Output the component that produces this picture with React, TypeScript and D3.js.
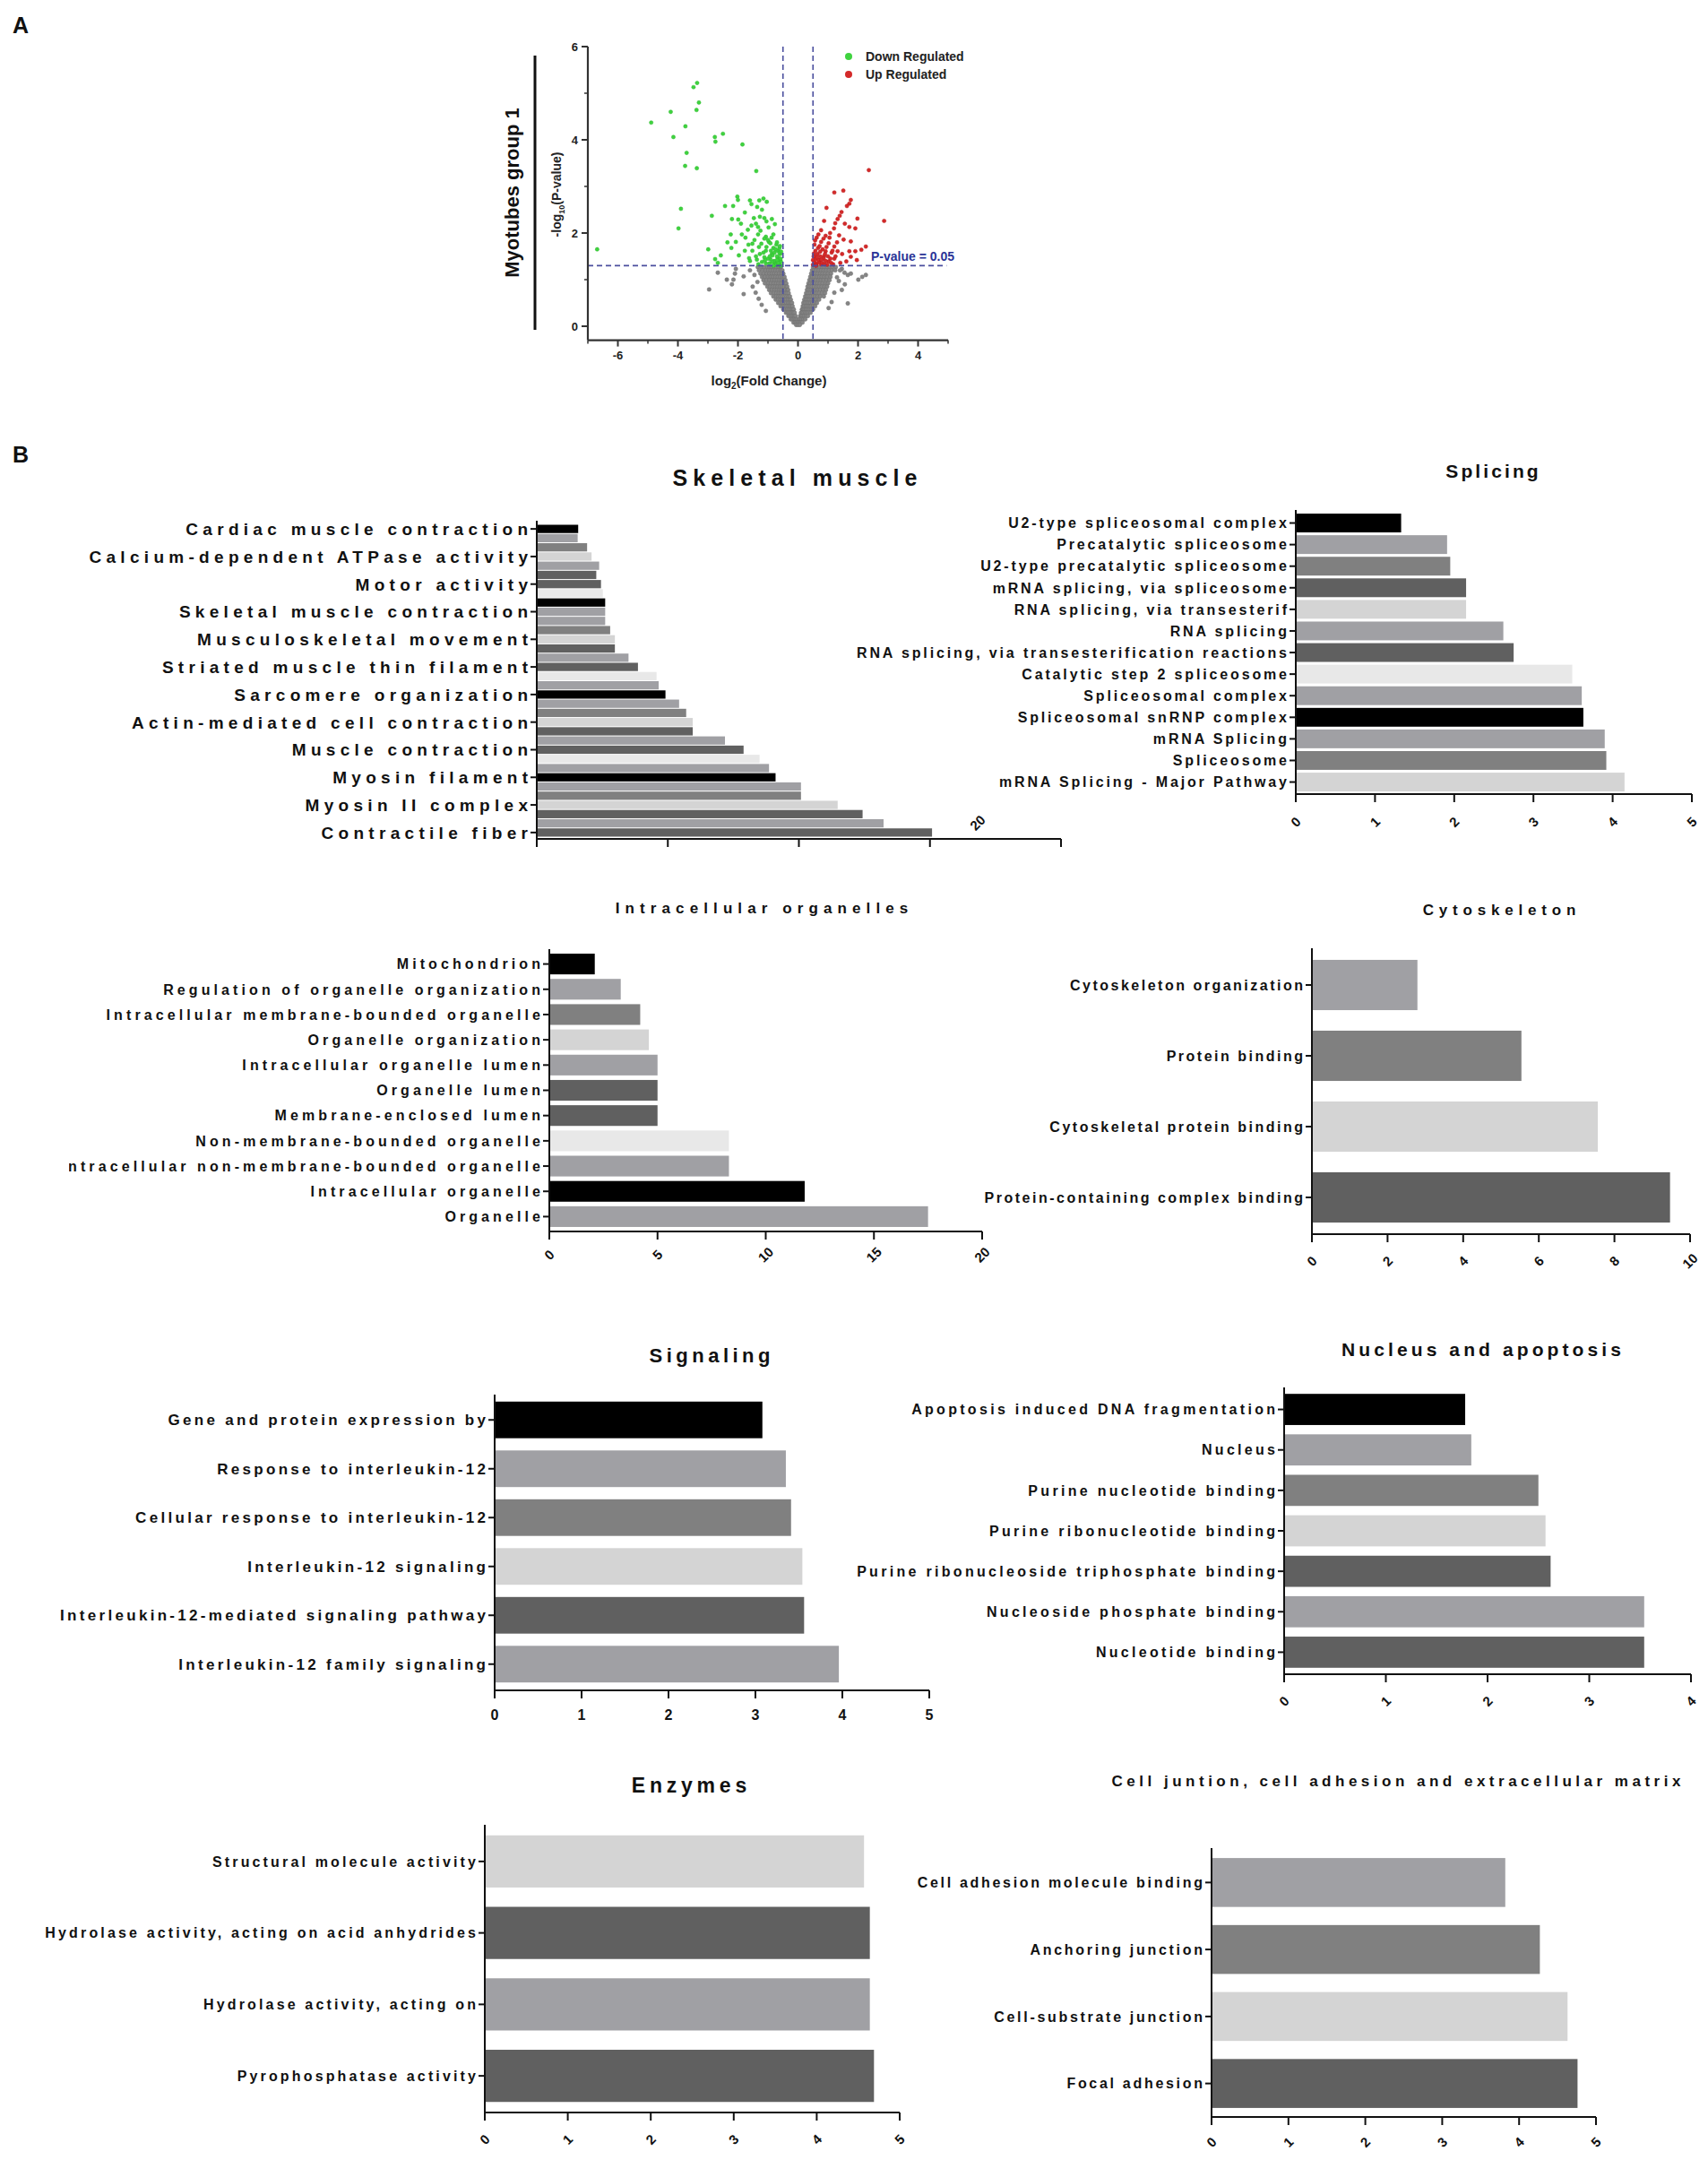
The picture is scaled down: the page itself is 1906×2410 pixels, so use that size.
import React from 'react';
import * as d3 from 'd3';

const FONT = "'Liberation Sans', Arial, Helvetica, sans-serif";

// ---------------- Panel A : volcano plot ----------------
const volcanoXTicks = [-6, -4, -2, 0, 2, 4];
const volcanoYTicks = [0, 2, 4, 6];

const downRegulated: [number, number][] = [
  [-3.36, 5.22], [-3.48, 5.13], [-3.3, 4.8], [-3.38, 4.64], [-4.24, 4.6], [-4.89, 4.37], [-3.75, 4.29],
  [-4.15, 4.06], [-2.77, 4.06], [-2.5, 4.13], [-2.75, 3.96], [-1.85, 3.9], [-3.71, 3.72], [-3.76, 3.44],
  [-3.37, 3.39], [-1.39, 3.33], [-3.9, 2.52], [-3.98, 2.1], [-6.69, 1.65],
  [-2.02, 2.78], [-2.0, 2.71], [-2.43, 2.58], [-2.16, 2.58], [-1.55, 2.62], [-1.29, 2.7], [-1.15, 2.74],
  [-1.04, 2.67], [-1.36, 2.56], [-1.77, 2.44], [-2.87, 2.37], [-1.99, 2.29], [-1.47, 2.32], [-1.27, 2.35],
  [-1.12, 2.32], [-0.87, 2.3], [-0.77, 2.19], [-1.55, 2.16], [-1.33, 2.13], [-0.98, 2.12], [-1.67, 2.07],
  [-1.87, 1.97], [-2.24, 1.97], [-1.33, 1.97], [-1.07, 1.92], [-0.82, 1.97], [-2.07, 1.81], [-1.52, 1.77],
  [-1.22, 1.77], [-0.97, 1.81], [-0.72, 1.75], [-0.67, 1.62], [-0.87, 1.55], [-1.07, 1.62], [-1.27, 1.55],
  [-1.52, 1.62], [-1.77, 1.62], [-2.99, 1.65], [-2.22, 1.68], [-1.97, 1.52], [-2.57, 1.52], [-2.76, 1.44],
  [-1.63, 1.46], [-1.37, 1.43], [-1.12, 1.48], [-0.92, 1.44], [-0.67, 1.48], [-0.57, 1.39], [-0.77, 1.36],
  [-1.07, 1.35], [-1.32, 1.33], [-2.67, 1.36], [-0.59, 1.55], [-0.62, 1.68], [-0.82, 1.68],
  [-0.6, 1.32], [-0.65, 1.42], [-0.7, 1.5], [-0.62, 1.58], [-0.75, 1.65], [-0.6, 1.72], [-0.7, 1.8],
  [-0.8, 1.4], [-0.85, 1.52], [-0.9, 1.62], [-0.95, 1.35], [-1.0, 1.45], [-1.05, 1.7], [-1.15, 1.58],
  [-1.2, 1.38], [-1.0, 1.85], [-0.88, 1.9], [-1.12, 1.88], [-1.3, 1.7], [-1.4, 1.5], [-0.58, 1.45],
  [-0.72, 1.32], [-0.82, 1.3], [-0.92, 1.78], [-1.45, 1.85], [-1.6, 1.4], [-1.75, 1.9], [-1.25, 2.05],
  [-1.05, 2.25], [-1.4, 2.2], [-1.2, 2.5], [-1.6, 2.7], [-1.9, 2.2], [-2.2, 2.3], [-2.35, 1.8],
  [-1.65, 1.75], [-0.56, 1.6], [-0.66, 1.36], [-0.78, 1.58], [-0.94, 1.5], [-1.1, 1.42], [-0.86, 1.38],
  [-0.58, 1.3], [-0.7, 1.42],
];

const upRegulated: [number, number][] = [
  [2.36, 3.35], [1.21, 2.87], [1.51, 2.91], [1.76, 2.71], [1.71, 2.63], [1.63, 2.58], [0.95, 2.54],
  [1.45, 2.45], [1.39, 2.37], [1.32, 2.3], [1.98, 2.31], [2.87, 2.26], [0.87, 2.26], [1.24, 2.21],
  [1.56, 2.2], [1.71, 2.13], [1.91, 2.1], [0.77, 2.06], [1.07, 2.0], [0.68, 1.97], [0.92, 1.94],
  [1.37, 1.95], [1.52, 1.86], [1.76, 1.82], [2.26, 1.71], [2.11, 1.64], [1.91, 1.61], [1.71, 1.61],
  [0.57, 1.84], [0.77, 1.81], [1.02, 1.78], [1.21, 1.71], [0.67, 1.68], [0.92, 1.61], [1.12, 1.58],
  [1.32, 1.61], [1.47, 1.55], [1.76, 1.49], [1.96, 1.42], [0.57, 1.49], [0.72, 1.42], [0.87, 1.5],
  [1.02, 1.39], [1.21, 1.45], [1.41, 1.36], [1.61, 1.39], [0.57, 1.35], [0.77, 1.33], [0.97, 1.32],
  [1.17, 1.33],
  [0.5, 1.32], [0.55, 1.38], [0.6, 1.45], [0.52, 1.5], [0.62, 1.33], [0.7, 1.37], [0.65, 1.55],
  [0.75, 1.5], [0.8, 1.36], [0.85, 1.45], [0.9, 1.55], [0.95, 1.7], [0.58, 1.62], [0.72, 1.72],
  [0.82, 1.65], [1.0, 1.5], [1.08, 1.45], [1.15, 1.62], [0.5, 1.42], [0.6, 1.3], [0.68, 1.42],
  [0.78, 1.43], [0.88, 1.33], [1.25, 1.5], [1.3, 1.8], [0.55, 1.75], [0.62, 1.9], [0.85, 1.88],
  [1.05, 1.9], [1.2, 2.1], [0.53, 1.56], [0.64, 1.48], [0.74, 1.6], [0.92, 1.4], [1.1, 1.36],
];

// rows of non-significant points: [ -log10(p), log2FC values ]
const notSignificantRows: [number, number[]][] = [
  [1.27, [-1.34, -1.22, -1.12, -1.02, -0.95, -0.88, -0.8, -0.72, -0.64, -0.57, 0.5, 0.57, 0.64, 0.72, 0.8, 0.88, 0.97, 1.06, 1.15, 1.26]],
  [1.2, [-1.3, -1.18, -1.08, -0.99, -0.91, -0.83, -0.75, -0.67, -0.58, -0.52, 0.47, 0.54, 0.61, 0.69, 0.77, 0.85, 0.94, 1.03, 1.13, 1.24]],
  [1.13, [-1.25, -1.14, -1.04, -0.95, -0.87, -0.79, -0.71, -0.63, -0.55, -0.49, 0.44, 0.51, 0.58, 0.66, 0.74, 0.82, 0.91, 1.0, 1.1]],
  [1.06, [-1.2, -1.1, -1.0, -0.91, -0.83, -0.75, -0.67, -0.59, -0.51, -0.45, 0.41, 0.48, 0.55, 0.63, 0.71, 0.79, 0.88, 0.97, 1.08]],
  [0.99, [-1.15, -1.05, -0.95, -0.86, -0.78, -0.7, -0.62, -0.54, -0.47, -0.42, 0.38, 0.45, 0.52, 0.6, 0.68, 0.76, 0.85, 0.95, 1.05]],
  [0.92, [-1.1, -0.99, -0.9, -0.81, -0.73, -0.65, -0.57, -0.5, -0.43, -0.39, 0.35, 0.42, 0.49, 0.57, 0.65, 0.73, 0.82, 0.92, 1.0]],
  [0.85, [-1.02, -0.93, -0.84, -0.76, -0.68, -0.6, -0.53, -0.46, -0.39, -0.36, 0.32, 0.39, 0.46, 0.54, 0.62, 0.7, 0.79, 0.88, 0.97]],
  [0.78, [-0.96, -0.87, -0.78, -0.7, -0.62, -0.55, -0.48, -0.42, -0.35, -0.33, 0.3, 0.36, 0.43, 0.5, 0.58, 0.66, 0.74, 0.84, 0.93]],
  [0.71, [-0.9, -0.8, -0.72, -0.64, -0.57, -0.5, -0.43, -0.37, -0.31, 0.27, 0.33, 0.4, 0.47, 0.55, 0.62, 0.7, 0.8, 0.9]],
  [0.64, [-0.82, -0.73, -0.65, -0.58, -0.51, -0.44, -0.38, -0.32, -0.27, 0.24, 0.3, 0.36, 0.43, 0.5, 0.57, 0.65, 0.74, 0.86]],
  [0.57, [-0.74, -0.66, -0.58, -0.51, -0.45, -0.39, -0.33, -0.28, -0.24, 0.21, 0.27, 0.33, 0.39, 0.46, 0.53, 0.6, 0.7]],
  [0.5, [-0.66, -0.58, -0.51, -0.45, -0.39, -0.33, -0.28, -0.23, -0.2, 0.18, 0.23, 0.29, 0.35, 0.41, 0.48, 0.55, 0.63]],
  [0.43, [-0.58, -0.5, -0.44, -0.38, -0.32, -0.27, -0.22, -0.18, 0.16, 0.2, 0.26, 0.31, 0.37, 0.43, 0.5, 0.57]],
  [0.36, [-0.49, -0.42, -0.36, -0.31, -0.26, -0.21, -0.17, -0.14, 0.13, 0.17, 0.22, 0.27, 0.32, 0.38, 0.44, 0.5]],
  [0.29, [-0.4, -0.34, -0.29, -0.24, -0.19, -0.15, -0.11, 0.1, 0.14, 0.19, 0.24, 0.29, 0.35, 0.42]],
  [0.22, [-0.32, -0.26, -0.21, -0.16, -0.12, -0.08, 0.07, 0.11, 0.16, 0.21, 0.27, 0.33]],
  [0.15, [-0.24, -0.18, -0.13, -0.08, -0.04, 0.03, 0.08, 0.13, 0.18, 0.24]],
  [0.08, [-0.15, -0.1, -0.05, 0.0, 0.05, 0.1, 0.15]],
  [0.03, [-0.06, 0.0, 0.06]],
];

const notSignificantOutliers: [number, number][] = [
  [-2.07, 1.23], [-2.1, 1.13], [-2.15, 1.0], [-2.2, 0.9], [-2.37, 1.0], [-2.96, 0.79], [-2.67, 1.15],
  [-1.81, 1.07], [-1.51, 0.85], [-1.41, 0.72], [-1.31, 0.59], [-1.21, 0.46], [-1.81, 0.69], [-1.07, 0.33],
  [-1.6, 1.2], [-1.45, 1.1], [-1.35, 0.95],
  [1.46, 1.23], [1.66, 1.1], [1.76, 1.13], [2.01, 1.0], [2.14, 1.06], [2.26, 1.1], [1.56, 0.9],
  [1.46, 0.78], [1.66, 0.49], [1.21, 0.72], [1.36, 0.97], [1.12, 0.52], [1.02, 0.39], [1.4, 1.2],
  [1.55, 1.15], [1.3, 1.05],
];

// ---------------- Panel B : enrichment bars ----------------
const C0 = '#000000';
const C1 = '#a0a0a4';
const C2 = '#808080';
const C3 = '#d4d4d4';
const C4 = '#606060';
const C5 = '#e8e8e8';

const skeletalTerms = [
  'Cardiac muscle contraction', 'Calcium-dependent ATPase activity', 'Motor activity',
  'Skeletal muscle contraction', 'Musculoskeletal movement', 'Striated muscle thin filament',
  'Sarcomere organization', 'Actin-mediated cell contraction', 'Muscle contraction',
  'Myosin filament', 'Myosin II complex', 'Contractile fiber',
];
const skeletalValues = [
  1.58, 1.56, 1.92, 2.09, 2.38, 2.27, 2.45, 2.52, 2.61, 2.61, 2.61, 2.8, 2.98, 2.98, 3.5, 3.86, 4.57,
  4.65, 4.91, 5.43, 5.7, 5.95, 5.95, 7.18, 7.89, 8.5, 8.86, 9.11, 10.08, 10.08, 11.48, 12.43, 13.23, 15.08,
];
const skeletalColors = [
  C0, C1, C2, C3, C1, C4, C4, C5, C0, C1, C1, C2, C3, C4, C1, C4, C5, C1, C0, C1, C2, C3, C4, C1, C4,
  C5, C1, C0, C1, C2, C3, C4, C1, C4,
];

const splicingTerms = [
  'U2-type spliceosomal complex', 'Precatalytic spliceosome', 'U2-type precatalytic spliceosome',
  'mRNA splicing, via spliceosome', 'RNA splicing, via transesterif', 'RNA splicing',
  'RNA splicing, via transesterification reactions', 'Catalytic step 2 spliceosome',
  'Spliceosomal complex', 'Spliceosomal snRNP complex', 'mRNA Splicing', 'Spliceosome',
  'mRNA Splicing - Major Pathway',
];
const splicingValues = [1.33, 1.91, 1.95, 2.15, 2.15, 2.62, 2.75, 3.49, 3.61, 3.63, 3.9, 3.92, 4.15];
const splicingColors = [C0, C1, C2, C4, C3, C1, C4, C5, C1, C0, C1, C2, C3];

const organelleTerms = [
  'Mitochondrion', 'Regulation of organelle organization', 'Intracellular membrane-bounded organelle',
  'Organelle organization', 'Intracellular organelle lumen', 'Organelle lumen', 'Membrane-enclosed lumen',
  'Non-membrane-bounded organelle', 'Intracellular non-membrane-bounded organelle',
  'Intracellular organelle', 'Organelle',
];
const organelleValues = [2.1, 3.3, 4.2, 4.6, 5.0, 5.0, 5.0, 8.3, 8.3, 11.8, 17.5];
const organelleColors = [C0, C1, C2, C3, C1, C4, C4, C5, C1, C0, C1];

const cytoTerms = [
  'Cytoskeleton organization', 'Protein binding', 'Cytoskeletal protein binding',
  'Protein-containing complex binding',
];
const cytoValues = [2.79, 5.54, 7.56, 9.47];
const cytoColors = [C1, C2, C3, C4];

const signalingTerms = [
  'Gene and protein expression by', 'Response to interleukin-12', 'Cellular response to interleukin-12',
  'Interleukin-12 signaling', 'Interleukin-12-mediated signaling pathway', 'Interleukin-12 family signaling',
];
const signalingValues = [3.08, 3.35, 3.41, 3.54, 3.56, 3.96];
const signalingColors = [C0, C1, C2, C3, C4, C1];

const nucleusTerms = [
  'Apoptosis induced DNA fragmentation', 'Nucleus', 'Purine nucleotide binding',
  'Purine ribonucleotide binding', 'Purine ribonucleoside triphosphate binding',
  'Nucleoside phosphate binding', 'Nucleotide binding',
];
const nucleusValues = [1.78, 1.84, 2.5, 2.57, 2.62, 3.54, 3.54];
const nucleusColors = [C0, C1, C2, C3, C4, C1, C4];

const enzymeTerms = [
  'Structural molecule activity', 'Hydrolase activity, acting on acid anhydrides',
  'Hydrolase activity, acting on', 'Pyrophosphatase activity',
];
const enzymeValues = [4.57, 4.64, 4.64, 4.69];
const enzymeColors = [C3, C4, C1, C4];

const junctionTerms = [
  'Cell adhesion molecule binding', 'Anchoring junction', 'Cell-substrate junction', 'Focal adhesion',
];
const junctionValues = [3.82, 4.27, 4.63, 4.76];
const junctionColors = [C1, C2, C3, C4];

type PanelCfg = {
  id: string;
  title: string;
  titleX: number;
  titleY: number;
  titleSize: number;
  titleLs: number;
  x0: number;
  x1: number;
  max: number;
  step: number;
  bandTop: number;
  bandBottom: number;
  pad: number;
  axisTop: number;
  axisY: number;
  labelSize: number;
  labelLs: number;
  tickLabelY: number;
  tickLabelSize: number;
  rotate: boolean;
  shownTicks?: number[];
  tickDx?: number;
  clipLeft?: number;
};

function BarPanel({ cfg, labels, values, colors }: {
  cfg: PanelCfg; labels: string[]; values: number[]; colors: string[];
}) {
  const x = d3.scaleLinear().domain([0, cfg.max]).range([cfg.x0, cfg.x1]);
  const y = d3.scaleBand<number>()
    .domain(d3.range(values.length))
    .range([cfg.bandTop, cfg.bandBottom])
    .paddingInner(cfg.pad)
    .paddingOuter(cfg.pad / 2);
  const ticks = d3.range(0, cfg.max + 1e-9, cfg.step);
  const shown = cfg.shownTicks ?? ticks;
  const clip = cfg.clipLeft !== undefined ? `url(#clip-${cfg.id})` : undefined;

  return (
    <g fontFamily={FONT} fontWeight="bold">
      {cfg.clipLeft !== undefined && (
        <defs>
          <clipPath id={`clip-${cfg.id}`}>
            <rect x={cfg.clipLeft} y={cfg.axisTop - 40} width={cfg.x0 - cfg.clipLeft} height={cfg.axisY - cfg.axisTop + 80} />
          </clipPath>
        </defs>
      )}
      <text
        x={cfg.titleX}
        y={cfg.titleY + cfg.titleSize * 0.36}
        dx={cfg.titleLs / 2}
        textAnchor="middle"
        fontSize={cfg.titleSize}
        style={{ letterSpacing: `${cfg.titleLs}px` }}
        fill="#111"
      >
        {cfg.title}
      </text>

      {values.map((v, i) => (
        <rect key={i} x={x(0)} y={y(i)} width={x(v) - x(0)} height={y.bandwidth()} fill={colors[i]} />
      ))}

      <line x1={cfg.x0} x2={cfg.x0} y1={cfg.axisTop} y2={cfg.axisY} stroke="#111" strokeWidth={2} />
      <line x1={cfg.x0 - 1} x2={cfg.x1} y1={cfg.axisY} y2={cfg.axisY} stroke="#111" strokeWidth={2} />

      {ticks.map((t) => (
        <line key={t} x1={x(t)} x2={x(t)} y1={cfg.axisY} y2={cfg.axisY + 9} stroke="#111" strokeWidth={2} />
      ))}
      {shown.map((t) => {
        const tx = x(t) + (cfg.tickDx ?? 0);
        return cfg.rotate ? (
          <text
            key={t}
            transform={`translate(${tx},${cfg.tickLabelY}) rotate(-45)`}
            textAnchor="middle"
            dy="0.35em"
            fontSize={cfg.tickLabelSize}
            fill="#111"
          >
            {t}
          </text>
        ) : (
          <text key={t} x={tx} y={cfg.tickLabelY} dy="0.35em" textAnchor="middle" fontSize={cfg.tickLabelSize} fill="#111">
            {t}
          </text>
        );
      })}

      <g clipPath={clip}>
        {labels.map((l, i) => {
          if (!l) return null;
          const cy = (y(i) ?? 0) + y.bandwidth() / 2;
          return (
            <g key={i}>
              <line x1={cfg.x0 - 7} x2={cfg.x0} y1={cy} y2={cy} stroke="#111" strokeWidth={2} />
              <text
                x={cfg.x0 - 10}
                y={cy}
                dx={cfg.labelLs}
                dy="0.36em"
                textAnchor="end"
                fontSize={cfg.labelSize}
                style={{ letterSpacing: `${cfg.labelLs}px` }}
                fill="#111"
              >
                {l}
              </text>
            </g>
          );
        })}
      </g>
    </g>
  );
}

const skeletalCfg: PanelCfg = {
  id: 'skel', title: 'Skeletal muscle', titleX: 887, titleY: 533, titleSize: 25, titleLs: 6.1,
  x0: 599, x1: 1184, max: 20, step: 5, bandTop: 585, bandBottom: 934, pad: 0.1,
  axisTop: 581, axisY: 936, labelSize: 19, labelLs: 5.3, tickLabelY: 918, tickLabelSize: 15,
  rotate: true, shownTicks: [20], tickDx: -93,
};
const splicingCfg: PanelCfg = {
  id: 'spl', title: 'Splicing', titleX: 1665, titleY: 525, titleSize: 21, titleLs: 3.1,
  x0: 1446, x1: 1888, max: 5, step: 1, bandTop: 571.5, bandBottom: 884.6, pad: 0.13,
  axisTop: 569, axisY: 886, labelSize: 16, labelLs: 2.85, tickLabelY: 917, tickLabelSize: 15, rotate: true,
};
const organelleCfg: PanelCfg = {
  id: 'org', title: 'Intracellular organelles', titleX: 850, titleY: 1013, titleSize: 17, titleLs: 6.1,
  x0: 613, x1: 1096, max: 20, step: 5, bandTop: 1061.5, bandBottom: 1371.5, pad: 0.18,
  axisTop: 1059, axisY: 1374, labelSize: 16, labelLs: 4.1, tickLabelY: 1400, tickLabelSize: 15,
  rotate: true, clipLeft: 77,
};
const cytoCfg: PanelCfg = {
  id: 'cyto', title: 'Cytoskeleton', titleX: 1673, titleY: 1015, titleSize: 17, titleLs: 5.8,
  x0: 1464, x1: 1886, max: 10, step: 2, bandTop: 1059.5, bandBottom: 1375.5, pad: 0.29,
  axisTop: 1058, axisY: 1377, labelSize: 16, labelLs: 2.5, tickLabelY: 1407, tickLabelSize: 15, rotate: true,
};
const signalingCfg: PanelCfg = {
  id: 'sig', title: 'Signaling', titleX: 792, titleY: 1512, titleSize: 22, titleLs: 4.5,
  x0: 552, x1: 1037, max: 5, step: 1, bandTop: 1557, bandBottom: 1884, pad: 0.25,
  axisTop: 1556, axisY: 1886, labelSize: 17, labelLs: 3.3, tickLabelY: 1913, tickLabelSize: 16, rotate: false,
};
const nucleusCfg: PanelCfg = {
  id: 'nuc', title: 'Nucleus and apoptosis', titleX: 1653, titleY: 1505, titleSize: 21, titleLs: 4.1,
  x0: 1433, x1: 1887, max: 4, step: 1, bandTop: 1550, bandBottom: 1866, pad: 0.23,
  axisTop: 1548, axisY: 1868, labelSize: 16, labelLs: 3.3, tickLabelY: 1898, tickLabelSize: 15, rotate: true,
};
const enzymeCfg: PanelCfg = {
  id: 'enz', title: 'Enzymes', titleX: 769, titleY: 1992, titleSize: 23, titleLs: 4.8,
  x0: 541, x1: 1004, max: 5, step: 1, bandTop: 2037, bandBottom: 2356, pad: 0.27,
  axisTop: 2036, axisY: 2357, labelSize: 16, labelLs: 3.15, tickLabelY: 2387, tickLabelSize: 15, rotate: true,
};
const junctionCfg: PanelCfg = {
  id: 'junc', title: 'Cell juntion, cell adhesion and extracellular matrix', titleX: 1558, titleY: 1987,
  titleSize: 17, titleLs: 4.5, x0: 1352, x1: 1781, max: 5, step: 1, bandTop: 2063, bandBottom: 2362,
  pad: 0.27, axisTop: 2062, axisY: 2362, labelSize: 16, labelLs: 2.7, tickLabelY: 2390, tickLabelSize: 15,
  rotate: true,
};

function Volcano() {
  const x = d3.scaleLinear().domain([-7, 5]).range([656, 1058]);
  const y = d3.scaleLinear().domain([0, 6]).range([364, 52]);
  const baseY = y(-0.3);
  const gray = notSignificantRows.flatMap(([py, xs]) => xs.map((px) => [px, py] as [number, number]))
    .concat(notSignificantOutliers);
  const minorX = d3.range(-7, 6).filter((v) => !volcanoXTicks.includes(v));
  const minorY = d3.range(1, 6, 2);
  const blue = '#4b4f9e';

  return (
    <g fontFamily={FONT} fontWeight="bold">
      {/* side label */}
      <text transform="translate(579,215) rotate(-90)" textAnchor="middle" fontSize={22} fill="#111">
        Myotubes group 1
      </text>
      <line x1={597} x2={597} y1={62} y2={368} stroke="#111" strokeWidth={3} />

      {gray.map(([px, py], i) => (
        <circle key={`g${i}`} cx={x(px)} cy={y(py)} r={2.2} fill="#858585" stroke="#6f6f6f" strokeWidth={0.5} />
      ))}
      {downRegulated.map(([px, py], i) => (
        <circle key={`d${i}`} cx={x(px)} cy={y(py)} r={2.1} fill="#3fd33f" stroke="#2fb82f" strokeWidth={0.5} />
      ))}
      {upRegulated.map(([px, py], i) => (
        <circle key={`u${i}`} cx={x(px)} cy={y(py)} r={2.1} fill="#d42a2a" stroke="#b81c1c" strokeWidth={0.5} />
      ))}

      {/* threshold lines */}
      {[-0.5, 0.5].map((v) => (
        <line key={v} x1={x(v)} x2={x(v)} y1={y(6)} y2={baseY} stroke={blue} strokeWidth={1.6} strokeDasharray="6 4" />
      ))}
      <line x1={x(-7)} x2={x(4.95)} y1={y(1.301)} y2={y(1.301)} stroke={blue} strokeWidth={1.6} strokeDasharray="6 4" />
      <text x={972} y={291} fontSize={14} fill="#2a3497">P-value = 0.05</text>

      {/* axes */}
      <line x1={x(-7)} x2={x(-7)} y1={y(6)} y2={baseY} stroke="#333" strokeWidth={2.2} />
      <line x1={x(-7)} x2={x(5)} y1={baseY} y2={baseY} stroke="#333" strokeWidth={2.2} />
      {volcanoYTicks.map((t) => (
        <g key={t}>
          <line x1={x(-7) - 7} x2={x(-7)} y1={y(t)} y2={y(t)} stroke="#333" strokeWidth={2} />
          <text x={x(-7) - 11} y={y(t)} dy="0.35em" textAnchor="end" fontSize={13} fill="#222">{t}</text>
        </g>
      ))}
      {minorY.map((t) => (
        <line key={t} x1={x(-7) - 4} x2={x(-7)} y1={y(t)} y2={y(t)} stroke="#333" strokeWidth={1.5} />
      ))}
      {volcanoXTicks.map((t) => (
        <g key={t}>
          <line x1={x(t)} x2={x(t)} y1={baseY} y2={baseY + 7} stroke="#333" strokeWidth={2} />
          <text x={x(t)} y={baseY + 17} dy="0.35em" textAnchor="middle" fontSize={13} fill="#222">{t}</text>
        </g>
      ))}
      {minorX.map((t) => (
        <line key={t} x1={x(t)} x2={x(t)} y1={baseY} y2={baseY + 4} stroke="#333" strokeWidth={1.5} />
      ))}

      <text transform="translate(626,217) rotate(-90)" textAnchor="middle" fontSize={14} fill="#222">
        -log<tspan fontSize={9} dy="4">10</tspan><tspan dy="-4">(P-value)</tspan>
      </text>
      <text x={858} y={430} textAnchor="middle" fontSize={15} fill="#222">
        log<tspan fontSize={10} dy="4">2</tspan><tspan dy="-4">(Fold Change)</tspan>
      </text>

      {/* legend */}
      <circle cx={947} cy={63} r={4} fill="#3fd33f" />
      <text x={966} y={63} dy="0.36em" fontSize={14} fill="#222">Down Regulated</text>
      <circle cx={947} cy={83} r={4} fill="#d42a2a" />
      <text x={966} y={83} dy="0.36em" fontSize={14} fill="#222">Up Regulated</text>
    </g>
  );
}

export default function App() {
  const skeletalLabels = skeletalValues.map((_, i) => (i % 3 === 0 ? skeletalTerms[i / 3] : ''));
  return (
    <svg
      width={1906}
      height={2410}
      viewBox="0 0 1906 2410"
      style={{ position: 'absolute', left: 0, top: 0, background: '#fff' }}
    >
      <rect x={0} y={0} width={1906} height={2410} fill="#fff" />
      <text x={14} y={37} fontFamily={FONT} fontWeight="bold" fontSize={25} fill="#111">A</text>
      <text x={14} y={516} fontFamily={FONT} fontWeight="bold" fontSize={25} fill="#111">B</text>
      <Volcano />
      <BarPanel cfg={skeletalCfg} labels={skeletalLabels} values={skeletalValues} colors={skeletalColors} />
      <BarPanel cfg={splicingCfg} labels={splicingTerms} values={splicingValues} colors={splicingColors} />
      <BarPanel cfg={organelleCfg} labels={organelleTerms} values={organelleValues} colors={organelleColors} />
      <BarPanel cfg={cytoCfg} labels={cytoTerms} values={cytoValues} colors={cytoColors} />
      <BarPanel cfg={signalingCfg} labels={signalingTerms} values={signalingValues} colors={signalingColors} />
      <BarPanel cfg={nucleusCfg} labels={nucleusTerms} values={nucleusValues} colors={nucleusColors} />
      <BarPanel cfg={enzymeCfg} labels={enzymeTerms} values={enzymeValues} colors={enzymeColors} />
      <BarPanel cfg={junctionCfg} labels={junctionTerms} values={junctionValues} colors={junctionColors} />
    </svg>
  );
}
